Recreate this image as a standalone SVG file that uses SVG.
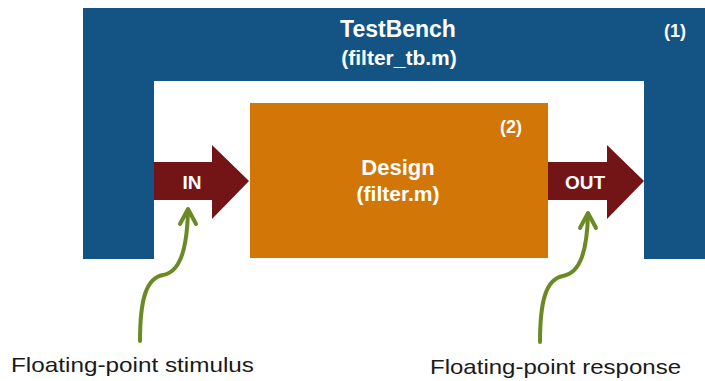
<svg xmlns="http://www.w3.org/2000/svg" width="705" height="381" viewBox="0 0 705 381">
<defs>
<style>
.w{fill:#ffffff;font-family:"Liberation Sans",Arial,sans-serif;font-weight:bold;text-anchor:middle}
.lbl{fill:#1a1a1a;font-family:"Liberation Sans",Arial,sans-serif;font-size:21px}
.g{fill:none;stroke:#6b8a24;stroke-width:4;stroke-linecap:round;stroke-linejoin:round}
.ar{fill:#731517}
</style>
</defs>
<rect width="705" height="381" fill="#ffffff"/>
<g id="testbench">
<path d="M83,8 H705 V259 H644 V81 H154 V259 H83 Z" fill="#135484"/>
<text class="w" x="398" y="37" font-size="23">TestBench</text>
<text class="w" x="399" y="65" font-size="21">(filter_tb.m)</text>
<text class="w" x="675" y="37" font-size="18">(1)</text>
</g>
<g id="design">
<rect x="250" y="103" width="298" height="155" fill="#d27608"/>
<text class="w" x="398" y="175" font-size="22">Design</text>
<text class="w" x="398" y="201" font-size="21">(filter.m)</text>
<text class="w" x="511" y="133" font-size="18">(2)</text>
</g>
<g id="in">
<path class="ar" d="M154,162 H212 V145 L249,181 L212,219 V200 H154 Z"/>
<text class="w" x="192" y="189" font-size="19">IN</text>
</g>
<g id="out">
<path class="ar" d="M548,162 H607 V145 L644,181 L607,219 V200 H548 Z"/>
<text class="w" x="585" y="189" font-size="19">OUT</text>
</g>
<g id="connectors">
<path class="g" d="M140,341 C140,300 146,278 163,275 C180,272 187,250 188,210"/>
<path class="g" d="M180,224 L188,209 L196,224"/>
<path class="g" d="M540,342 C540,301 546,279 563,276 C580,273 587,252 588,214"/>
<path class="g" d="M580,228 L588,213 L596,228"/>
</g>
<g id="stimulus">
<text class="lbl" x="11" y="372" textLength="243" lengthAdjust="spacingAndGlyphs">Floating-point stimulus</text>
</g>
<g id="response">
<text class="lbl" x="430" y="374" textLength="251" lengthAdjust="spacingAndGlyphs">Floating-point response</text>
</g>
</svg>
